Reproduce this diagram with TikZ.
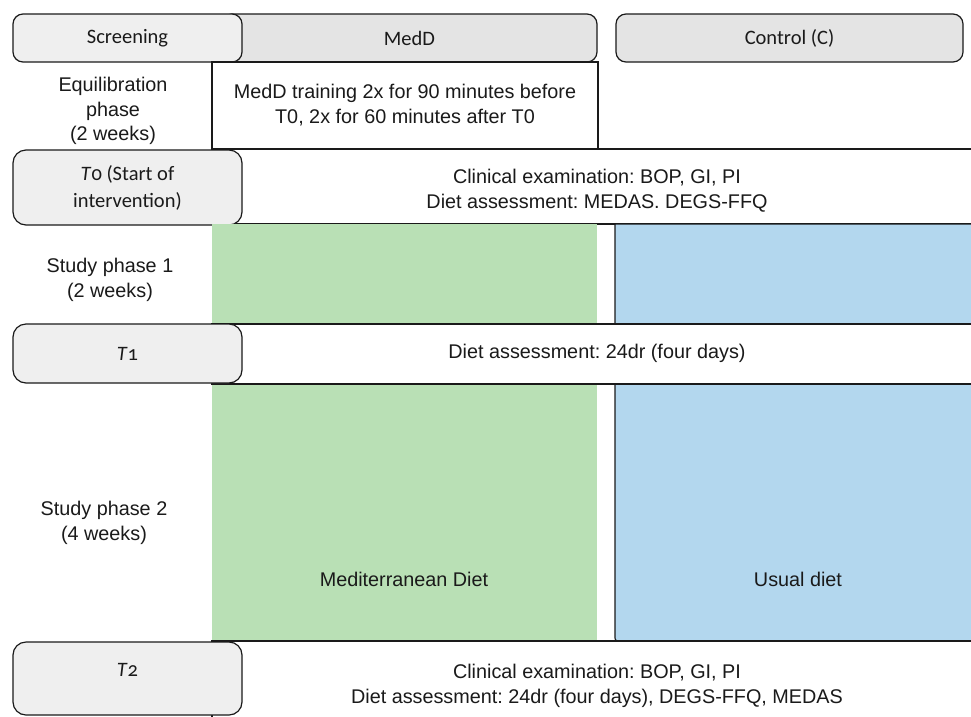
\documentclass[tikz,border=0pt]{standalone}
\usepackage{fontspec}
\setmainfont{Liberation Sans}
\newfontfamily\cali[Numbers=OldStyle]{Carlito}
\frenchspacing
\definecolor{hdrA}{HTML}{EFEFEF}
\definecolor{hdrB}{HTML}{E4E4E4}
\definecolor{medgreen}{HTML}{B9E0B5}
\definecolor{usualblue}{HTML}{B3D7EE}
\definecolor{ink}{HTML}{1A1A1A}
\begin{document}
\frenchspacing
\begin{tikzpicture}[x=1pt,y=-1pt,
  hdr/.style={draw=ink, line width=1.2pt, rounded corners=10pt, inner sep=0pt,
    font=\cali\fontsize{20.5}{24}\selectfont, text=ink},
  tbox/.style={draw=ink, line width=1.2pt, rounded corners=13pt, fill=hdrA, inner sep=0pt,
    minimum width=229pt, align=center, font=\cali\fontsize{20.5}{27}\selectfont, text=ink},
  band/.style={draw=ink, line width=1.2pt, fill=white},
  txt/.style={align=center, inner sep=0pt, font=\rmfamily\frenchspacing\fontsize{19.8}{24.8}\selectfont, text=ink}]
\useasboundingbox (0,0) rectangle (971,716);
% header row
\node[hdr, fill=hdrB, minimum width=375pt, minimum height=48pt] (medd) at (409.5,38) {MedD};
\node[hdr, fill=hdrA, minimum width=229pt, minimum height=48pt] (scr) at (127.5,38) {Screening};
\node[hdr, fill=hdrB, minimum width=347pt, minimum height=48pt] (ctrl) at (789.5,38) {Control (C)};
% equilibration row
\node[txt] (eqlab) at (113,111) {Equilibration\\phase\\(2 weeks)};
\node[draw=ink, line width=1.2pt, fill=white, minimum width=386pt, minimum height=87pt,
  inner sep=0pt] (train) at (405,105.5) {};
\node[txt] (traintxt) at (405,105) {MedD training 2x for 90 minutes before\\T0, 2x for 60 minutes after T0};
% T0 row
\draw[band] (212,149) rectangle (990,224);
\node[txt] (t0txt) at (597,191) {Clinical examination: BOP, GI, PI\\Diet assessment: MEDAS. DEGS-FFQ};
\node[tbox, minimum height=75pt] (t0) at (127.5,187.5) {\textit{T}0 (Start of\\intervention)};
% diet columns
\fill[medgreen] (212,224) rectangle (597,641);
\draw[ink, line width=1.2pt, fill=usualblue] (990,224) -- (615,224) -- (615,635)
  .. controls (615,641) .. (621,641) -- (990,641) -- cycle;
\node[txt] (sp1) at (110,280) {Study phase 1\\(2 weeks)};
% T1 row
\draw[band] (212,324) rectangle (990,384);
\node[txt] (t1txt) at (597,353) {Diet assessment: 24dr (four days)};
\node[tbox, minimum height=59pt] (t1) at (127.5,353.5) {\textit{T}1};
% study phase 2
\node[txt] (sp2) at (104,523) {Study phase 2\\(4 weeks)};
\node[txt] (medtxt) at (404,579) {Mediterranean Diet};
\node[txt] (usual) at (798,579) {Usual diet};
% T2 row
\draw[band] (212,641) rectangle (990,730);
\node[txt] (t2txt) at (597,686) {Clinical examination: BOP, GI, PI\\Diet assessment: 24dr (four days), DEGS-FFQ, MEDAS};
\node[tbox, minimum height=73pt] (t2) at (127.5,678.5) {};
\node[inner sep=0pt, font=\cali\fontsize{20.5}{24}\selectfont, text=ink] (t2lab) at (127.5,670) {\textit{T}2};
\end{tikzpicture}
\end{document}
